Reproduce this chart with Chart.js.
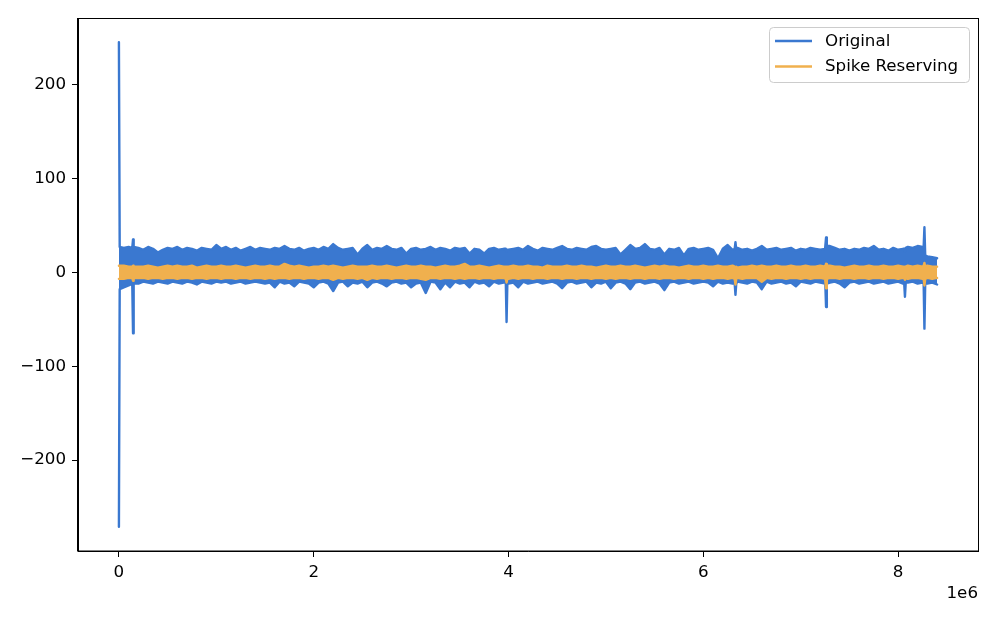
<!DOCTYPE html>
<html>
<head>
<meta charset="utf-8">
<script src="https://cdn.jsdelivr.net/npm/chart.js@4.4.1/dist/chart.umd.min.js"></script>
<style>
  html, body { margin: 0; padding: 0; background: #ffffff; }
  #wrap { width: 997px; height: 623px; }
</style>
</head>
<body>
<div id="wrap"><canvas id="c" width="997" height="623"></canvas></div>
<script>
// ---- Data (x in units of 1e6 samples) ----
const seriesNames = ["Original", "Spike Reserving"];
const xTicks = [0, 2, 4, 6, 8];
const yTicks = [-200, -100, 0, 100, 200];
const sampleStep = 0.05; // envelope bins, 1e6 units

// Envelope of the "Original" trace per bin (max / min), x = 0.05 .. 8.40
const origHigh = [
  26, 27, 25, 26, 24, 27, 25, 21, 24, 26,
  25, 27, 24, 26, 25, 23, 26, 25, 24, 29,
  25, 27, 24, 26, 23, 25, 27, 24, 26, 25,
  24, 26, 25, 28, 25, 24, 26, 23, 25, 26,
  24, 27, 25, 30, 26, 24, 25, 26, 19, 25,
  29, 24, 26, 25, 28, 25, 24, 26, 20, 25,
  26, 24, 25, 27, 24, 26, 25, 23, 26, 25,
  26, 20, 25, 24, 20, 25, 26, 24, 25, 24,
  25, 26, 24, 28, 25, 23, 26, 25, 24, 26,
  28, 25, 24, 26, 25, 24, 27, 28, 25, 24,
  25, 26, 19, 24, 29, 25, 26, 30, 25, 24,
  26, 19, 25, 24, 26, 18, 25, 26, 24, 25,
  26, 24, 15, 25, 29, 24, 26, 24, 25, 23,
  25, 28, 24, 25, 26, 24, 25, 26, 23, 25,
  24, 26, 25, 24, 25, 28, 26, 24, 25, 23,
  25, 24, 26, 25, 28, 24, 25, 23, 26, 24,
  25, 27, 26, 28, 27, 17, 16, 15
];
const origLow = [
  -16, -14, -11, -12, -10, -11, -12, -10, -11, -12,
  -10, -11, -12, -10, -11, -13, -10, -11, -12, -10,
  -11, -10, -12, -11, -10, -12, -11, -10, -11, -12,
  -11, -16, -10, -12, -11, -15, -10, -11, -12, -16,
  -11, -10, -12, -20, -11, -10, -15, -11, -12, -10,
  -16, -11, -10, -12, -15, -11, -10, -12, -11, -16,
  -12, -11, -22, -10, -11, -18, -11, -16, -10, -12,
  -11, -16, -10, -12, -11, -15, -10, -12, -11, -12,
  -11, -16, -10, -12, -11, -10, -12, -11, -10, -12,
  -17, -11, -10, -12, -11, -10, -16, -11, -12, -10,
  -17, -11, -10, -12, -18, -11, -10, -12, -11, -10,
  -12, -19, -11, -10, -12, -11, -10, -12, -11, -10,
  -11, -15, -10, -12, -11, -12, -10, -11, -12, -10,
  -11, -18, -10, -12, -11, -10, -12, -11, -15, -10,
  -11, -12, -10, -11, -12, -11, -10, -12, -16, -11,
  -10, -12, -11, -10, -12, -11, -10, -12, -11, -10,
  -12, -11, -10, -12, -11, -12, -11, -13
];
// Envelope of the "Spike Reserving" trace per bin
const resHigh = [
  7, 6, 7, 6, 6, 7, 6, 5, 6, 7,
  6, 7, 6, 6, 7, 5, 6, 7, 6, 6,
  7, 6, 6, 7, 6, 5, 6, 7, 6, 6,
  7, 6, 6, 9, 7, 6, 7, 6, 5, 6,
  6, 7, 6, 7, 6, 5, 6, 7, 6, 6,
  6, 7, 6, 6, 7, 6, 5, 6, 7, 6,
  6, 7, 6, 6, 5, 6, 7, 6, 6, 7,
  9, 6, 6, 7, 6, 5, 6, 7, 6, 6,
  7, 6, 6, 7, 6, 6, 5, 7, 6, 6,
  6, 7, 6, 6, 7, 6, 6, 5, 6, 7,
  6, 6, 7, 6, 6, 7, 6, 5, 6, 7,
  6, 7, 6, 6, 5, 6, 7, 6, 6, 7,
  6, 6, 7, 6, 6, 7, 5, 6, 6, 7,
  6, 7, 6, 6, 7, 6, 6, 7, 6, 6,
  7, 6, 6, 7, 6, 7, 6, 6, 5, 6,
  7, 6, 6, 7, 6, 6, 7, 6, 6, 7,
  6, 7, 6, 7, 6, 7, 6, 6
];
const resLow = [
  -7, -6, -7, -6, -6, -7, -6, -6, -7, -6,
  -6, -7, -6, -6, -7, -6, -6, -7, -6, -6,
  -7, -6, -6, -7, -6, -6, -7, -6, -6, -7,
  -6, -7, -6, -6, -7, -6, -6, -7, -6, -6,
  -7, -6, -6, -8, -6, -7, -6, -6, -7, -6,
  -8, -6, -7, -6, -6, -7, -6, -6, -7, -6,
  -6, -7, -8, -6, -6, -7, -6, -6, -7, -6,
  -7, -6, -6, -7, -6, -6, -7, -6, -6, -7,
  -6, -7, -6, -6, -7, -6, -6, -7, -6, -6,
  -7, -6, -6, -7, -6, -6, -7, -6, -6, -7,
  -6, -7, -6, -6, -7, -6, -6, -7, -6, -6,
  -7, -6, -6, -7, -6, -6, -7, -6, -6, -7,
  -6, -7, -6, -6, -7, -6, -6, -7, -6, -6,
  -6, -10, -6, -7, -6, -6, -7, -6, -6, -7,
  -6, -7, -6, -6, -7, -6, -6, -7, -6, -6,
  -7, -6, -6, -7, -6, -6, -7, -6, -6, -7,
  -6, -7, -6, -6, -7, -6, -7, -6
];
// Isolated spikes (x in 1e6) with their neighbouring samples
const burstX        = [0.000, 0.008, 0.137, 0.145, 0.153, 3.972, 3.980, 3.988, 6.322, 6.330, 6.338, 7.252, 7.260, 7.268, 8.062, 8.070, 8.078, 8.262, 8.270, 8.278];
const burstOrigHigh = [245,   27,    26,    35,    27,    25,    22,    24,    25,    32,    24,    25,    37,    28,    25,    22,    26,    27,    48,    18];
const burstOrigLow  = [-271,  -18,   -12,   -65,   -12,   -11,   -53,   -12,   -12,   -24,   -12,   -11,   -37,   -12,   -11,   -26,   -11,   -12,   -60,   -12];
const burstResHigh  = [7,     7,     6,     7,     6,     6,     6,     6,     6,     5,     6,     6,     9,     7,     6,     5,     6,     7,     10,    6];
const burstResLow   = [-7,    -7,    -6,    -9,    -6,    -7,    -11,   -7,    -7,    -13,   -7,    -7,    -17,   -7,    -6,    -8,    -6,    -7,    -14,   -7];

// ---- Build merged envelopes ----
const samples = [];
for (let k = 0; k < origHigh.length; k++) {
  samples.push({ x: (k + 1) * sampleStep, oh: origHigh[k], ol: origLow[k], rh: resHigh[k], rl: resLow[k] });
}
for (let i = 0; i < burstX.length; i++) {
  samples.push({ x: burstX[i], oh: burstOrigHigh[i], ol: burstOrigLow[i], rh: burstResHigh[i], rl: burstResLow[i] });
}
samples.sort((a, b) => a.x - b.x);
const pts = key => samples.map(s => ({ x: s.x * 1e6, y: s[key] }));

const BLUE = '#3a78d0';
const ORANGE = '#f0b04e';

const lineBase = {
  borderWidth: 2.4,
  pointRadius: 0,
  pointHoverRadius: 0,
  tension: 0,
  borderJoinStyle: 'round',
  borderCapStyle: 'round',
  parsing: false,
  normalized: true
};

const datasets = [
  Object.assign({}, lineBase, { label: seriesNames[0], data: pts('oh'), borderColor: BLUE, backgroundColor: BLUE, fill: 1, order: 1 }),
  Object.assign({}, lineBase, { label: seriesNames[0] + ' (min)', data: pts('ol'), borderColor: BLUE, backgroundColor: BLUE, fill: false, order: 1 }),
  Object.assign({}, lineBase, { label: seriesNames[1], data: pts('rh'), borderColor: ORANGE, backgroundColor: ORANGE, fill: 3, order: 0 }),
  Object.assign({}, lineBase, { label: seriesNames[1] + ' (min)', data: pts('rl'), borderColor: ORANGE, backgroundColor: ORANGE, fill: false, order: 0 })
];

const FONT = 'DejaVu Sans';
const FSIZE = 16.7;

const framePlugin = {
  id: 'frameAndLegend',
  afterDraw(chart) {
    const ctx = chart.ctx;
    const a = chart.chartArea;
    ctx.save();
    // axes frame
    ctx.strokeStyle = '#000';
    ctx.lineWidth = 1;
    ctx.strokeRect(Math.round(a.left) - 0.5, Math.round(a.top) + 0.5, Math.round(a.right - a.left) + 1, Math.round(a.bottom - a.top) - 0.5);
    // offset text
    ctx.fillStyle = '#000';
    ctx.font = FSIZE + 'px "' + FONT + '"';
    ctx.textAlign = 'right';
    ctx.textBaseline = 'middle';
    ctx.fillText('1e6', a.right, 594);
    // legend
    const bx = 769.5, by = 27.5, bw = 200, bh = 55;
    ctx.beginPath();
    ctx.roundRect(bx, by, bw, bh, 4);
    ctx.fillStyle = 'rgba(255,255,255,0.8)';
    ctx.fill();
    ctx.strokeStyle = '#cccccc';
    ctx.lineWidth = 1;
    ctx.stroke();
    const items = [[seriesNames[0], BLUE], [seriesNames[1], ORANGE]];
    items.forEach((it, i) => {
      const y = 41 + i * 25.5;
      ctx.beginPath();
      ctx.moveTo(775, y);
      ctx.lineTo(812, y);
      ctx.strokeStyle = it[1];
      ctx.lineWidth = 2.4;
      ctx.stroke();
      ctx.fillStyle = '#000';
      ctx.textAlign = 'left';
      ctx.textBaseline = 'middle';
      ctx.fillText(it[0], 825, y + 0.5);
    });
    ctx.restore();
  }
};

new Chart(document.getElementById('c'), {
  type: 'line',
  data: { datasets },
  options: {
    responsive: false,
    animation: false,
    devicePixelRatio: 1,
    layout: { padding: { left: 0, top: 18, right: 19, bottom: 0 } },
    plugins: {
      legend: { display: false },
      tooltip: { enabled: false },
      filler: { propagate: false }
    },
    scales: {
      x: {
        type: 'linear',
        min: -0.42e6,
        max: 8.82e6,
        afterFit(scale) { scale.height = 72; },
        afterBuildTicks(scale) { scale.ticks = xTicks.map(v => ({ value: v * 1e6 })); },
        grid: { drawOnChartArea: false, drawTicks: true, tickLength: 6, tickColor: '#000', tickWidth: 1 },
        border: { display: true, color: '#000', width: 1 },
        ticks: {
          color: '#000', font: { family: FONT, size: FSIZE }, padding: 6,
          maxRotation: 0, autoSkip: false,
          callback: v => String(Math.round(v / 1e6))
        }
      },
      y: {
        type: 'linear',
        min: -296.8,
        max: 270.8,
        afterFit(scale) { scale.width = 78; },
        afterBuildTicks(scale) { scale.ticks = yTicks.map(v => ({ value: v })); },
        grid: { drawOnChartArea: false, drawTicks: true, tickLength: 6, tickColor: '#000', tickWidth: 1 },
        border: { display: true, color: '#000', width: 1 },
        ticks: {
          color: '#000', font: { family: FONT, size: FSIZE }, padding: 6,
          autoSkip: false,
          callback: v => String(v).replace('-', '\u2212')
        }
      }
    }
  },
  plugins: [framePlugin]
});
</script>
</body>
</html>
